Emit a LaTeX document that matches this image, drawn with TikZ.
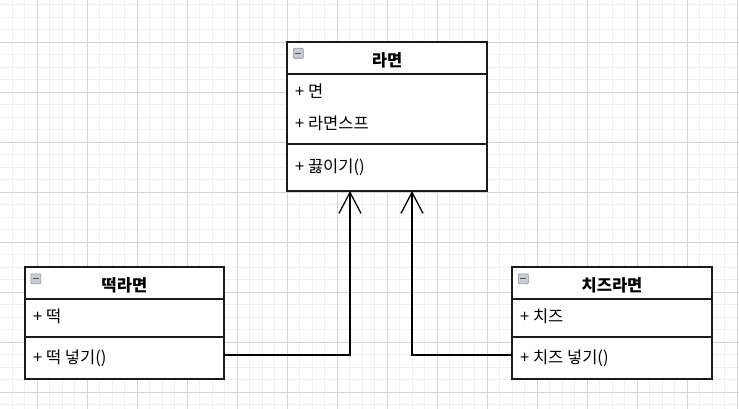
\documentclass[tikz,border=0pt]{standalone}
\usepackage{fontspec}
\setmainfont{Noto Sans CJK KR}
\usetikzlibrary{arrows.meta,calc}
\definecolor{gridminor}{HTML}{F0F0F0}
\definecolor{gridmajor}{HTML}{D4D4D4}
\definecolor{boxline}{HTML}{1A1A1A}
\definecolor{iconfill}{HTML}{C8CCD2}
\definecolor{iconline}{HTML}{8A8F96}
\tikzset{
  compart/.style={draw=boxline, line width=1.2pt, fill=white, inner sep=0pt, outer sep=0pt},
  titletext/.style={inner sep=0pt, font=\fontsize{16.5}{18}\selectfont\bfseries},
  membertext/.style={inner sep=0pt, anchor=west, font=\fontsize{16.5}{18}\selectfont},
  conn/.style={draw=black, line width=1.3pt},
  inherit/.style={conn, -{Straight Barb[length=21pt,width=22pt,line width=1.3pt]}},
  collapseicon/.style={draw=iconline, line width=0.6pt, fill=iconfill, rounded corners=1pt, minimum size=10pt, inner sep=0pt, anchor=north west},
}
\begin{document}
\begin{tikzpicture}[x=1pt,y=-1pt]
\useasboundingbox (0,0) rectangle (739,409);
\fill[white] (0,0) rectangle (739,409);
% grid
\foreach \i in {-3,...,56} {
  \draw[gridminor, line width=0.8pt] ({37.3+12.5*\i},0) -- ({37.3+12.5*\i},409);
}
\foreach \i in {-3,...,30} {
  \draw[gridminor, line width=0.8pt] (0,{42.3+12.5*\i}) -- (739,{42.3+12.5*\i});
}
\foreach \i in {0,...,14} {
  \draw[gridmajor, line width=0.8pt] ({37.3+50*\i},0) -- ({37.3+50*\i},409);
}
\foreach \i in {-1,...,7} {
  \draw[gridmajor, line width=0.8pt] (0,{42.3+50*\i}) -- (739,{42.3+50*\i});
}

% ---- 라면 ----
\node[compart, minimum width=200pt, minimum height=32pt] (ramenT) at (387,58) {};
\node[compart, minimum width=200pt, minimum height=70pt] (ramenA) at (387,109) {};
\node[compart, minimum width=200pt, minimum height=47pt] (ramenM) at (387,167.5) {};
\node[titletext] (ramenTitle) at (387,60) {라면};
\node[membertext] (ramenA1) at (295,91) {+ 면};
\node[membertext] (ramenA2) at (295,123.5) {+ 라면스프};
\node[membertext] (ramenM1) at (295,167) {+ 끓이기()};
\node[collapseicon] (ramenIcon) at (293,48) {};
\draw[iconline!60!black, line width=1pt] ($(ramenIcon.center)+(-3,0)$) -- ($(ramenIcon.center)+(3,0)$);

% ---- 떡라면 ----
\node[compart, minimum width=199pt, minimum height=32pt] (tteokT) at (124.5,283) {};
\node[compart, minimum width=199pt, minimum height=38pt] (tteokA) at (124.5,318) {};
\node[compart, minimum width=199pt, minimum height=42pt] (tteokM) at (124.5,358) {};
\node[titletext] (tteokTitle) at (124.5,285) {떡라면};
\node[membertext] (tteokA1) at (33,316) {+ 떡};
\node[membertext] (tteokM1) at (33,358) {+ 떡 넣기()};
\node[collapseicon] (tteokIcon) at (30.5,273.5) {};
\draw[iconline!60!black, line width=1pt] ($(tteokIcon.center)+(-3,0)$) -- ($(tteokIcon.center)+(3,0)$);

% ---- 치즈라면 ----
\node[compart, minimum width=200pt, minimum height=32pt] (cheeseT) at (612,283) {};
\node[compart, minimum width=200pt, minimum height=38pt] (cheeseA) at (612,318) {};
\node[compart, minimum width=200pt, minimum height=42pt] (cheeseM) at (612,358) {};
\node[titletext] (cheeseTitle) at (612,285) {치즈라면};
\node[membertext] (cheeseA1) at (520,316) {+ 치즈};
\node[membertext] (cheeseM1) at (520,358) {+ 치즈 넣기()};
\node[collapseicon] (cheeseIcon) at (518,273.5) {};
\draw[iconline!60!black, line width=1pt] ($(cheeseIcon.center)+(-3,0)$) -- ($(cheeseIcon.center)+(3,0)$);

% ---- connectors ----
\coordinate (tipL) at (350,191);
\coordinate (tipR) at (412,191);
\coordinate (startL) at ($(tteokM.east)+(0,-3)$);
\coordinate (startR) at ($(cheeseM.west)+(0,-3)$);
\draw[inherit] (startL) -| (tipL);
\draw[inherit] (startR) -| (tipR);
\end{tikzpicture}
\end{document}
